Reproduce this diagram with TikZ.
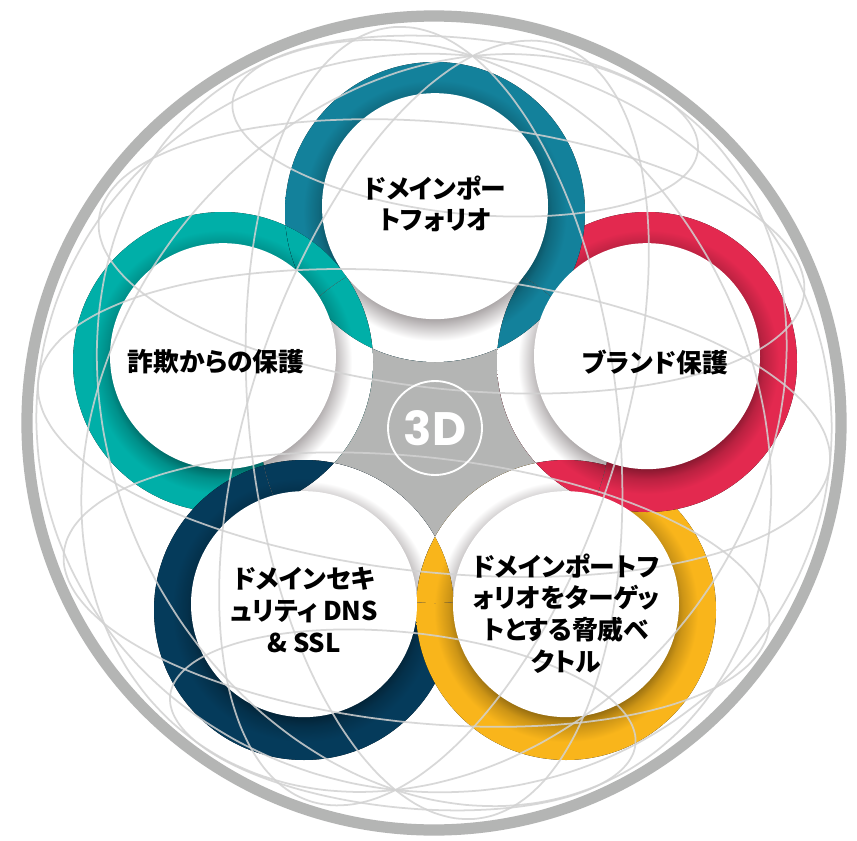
\documentclass[tikz,border=0pt]{standalone}
\usepackage{fontspec}
\newfontfamily\jpfont{Noto Sans CJK JP}[RawFeature=+palt]
\newfontfamily\dfont{Poppins}

\definecolor{globegray}{HTML}{B4B5B4}
\definecolor{gridgray}{HTML}{D2D2D2}
\definecolor{shadegray}{HTML}{A9A4A5}
\definecolor{portblue}{HTML}{13819B}
\definecolor{fraudteal}{HTML}{00AFA8}
\definecolor{brandred}{HTML}{E3294F}
\definecolor{secnavy}{HTML}{053B5B}
\definecolor{threatgold}{HTML}{F9B51B}

\colorlet{ringcol}{portblue}
\pgfdeclareradialshading[ringcol]{ringshade}{\pgfpoint{0bp}{0bp}}{%
  color(0bp)=(ringcol!60!black); color(17.8bp)=(ringcol!60!black);
  color(19.5bp)=(ringcol!82!black); color(22bp)=(ringcol);
  color(50bp)=(ringcol)}
\pgfdeclareradialshading{whiteshade}{\pgfpoint{0bp}{0bp}}{%
  color(0bp)=(shadegray); color(17.8bp)=(shadegray);
  color(21.5bp)=(white); color(50bp)=(white)}

% one ring band, filled as a whole disc (its middle is covered later)
\newcommand{\ringfill}[2]{\colorlet{ringcol}{#2}%
  \fill[shading=ringshade] (#1) circle (150);}

\begin{document}
\begin{tikzpicture}[x=0.03cm, y=-0.03cm,
    topic/.style={font=\jpfont\bfseries\fontsize{22}{27}\selectfont, align=center, text=black, inner sep=0pt},
    meridian/.style={draw=gridgray, line width=1.5pt, opacity=0.85}]
  \path[use as bounding box, fill=white] (0,0) rectangle (857,841);

  \coordinate (C) at (435,428);
  \coordinate (O) at (434,423);
  \coordinate (top) at (435,212);
  \coordinate (left) at (223,362);
  \coordinate (right) at (647,362);
  \coordinate (bl) at (304,610);
  \coordinate (br) at (566,610);

  % grey hub
  \fill[globegray] (C) circle (112);

  % coloured bands, each over the next one
  \foreach \p/\c in {left/fraudteal, bl/secnavy, br/threatgold, right/brandred, top/portblue}
    {\ringfill{\p}{\c}}
  \begin{scope}
    \clip (top) circle (150);
    \ringfill{left}{fraudteal}
  \end{scope}

  % white arcs facing the hub
  \foreach \p in {top, left, right, bl, br}
  {
    \begin{scope}
      \clip (C) circle (175);
      \fill[shading=whiteshade] (\p) circle (150);
    \end{scope}
  }
  % crossings near the hub
  \foreach \p/\q/\c in {top/right/portblue, right/br/brandred, br/bl/threatgold, bl/left/secnavy, left/top/fraudteal}
  {
    \begin{scope}
      \clip (C) circle (175);
      \clip (\q) circle (150);
      \ringfill{\p}{\c}
    \end{scope}
  }

  % white faces
  \foreach \p in {top, left, right, bl, br}
    \fill[white] ([yshift=5pt]\p) circle (113);

  % globe grid
  \begin{scope}
    \clip (O) circle (402);
    \begin{scope}[shift={(O)}, yscale=-1, rotate=6]
      \foreach \b in {-54,-27,0,27,54}
        \draw[meridian] plot[domain=0:354, samples=60, smooth cycle]
          ({398*cos(\b)*cos(\x)}, {398*(sin(\b)*cos(22)-cos(\b)*sin(\x)*sin(22))});
      \foreach \l in {30,60,...,150}
        \draw[meridian] plot[domain=0:354, samples=60, smooth cycle]
          ({398*cos(\x)*sin(\l)}, {398*(sin(\x)*cos(22)-cos(\x)*cos(\l)*sin(22))});
    \end{scope}
  \end{scope}

  % hub badge
  \draw[white, line width=1.6pt] (C) circle (47);
  \node[font=\dfont\bfseries\fontsize{40}{40}\selectfont, text=white] (hub) at (C) {3D};

  \node[topic] (portfolio) at ([yshift=7pt]top) {ドメインポー\\トフォリオ};
  \node[topic] (fraud) at ([xshift=-6pt]left) {詐欺からの保護};
  \node[topic] (brand) at ([xshift=7pt]right) {ブランド保護};
  \node[topic] (security) at (bl) {ドメインセキ\\ュリティ DNS\\\& SSL};
  \node[topic] (threat) at ([yshift=-3pt]br) {ドメインポートフ\\ォリオをターゲッ\\トとする脅威ベ\\クトル};

  % globe rim
  \draw[globegray, line width=9.6pt] (O) circle (407);
\end{tikzpicture}
\end{document}
